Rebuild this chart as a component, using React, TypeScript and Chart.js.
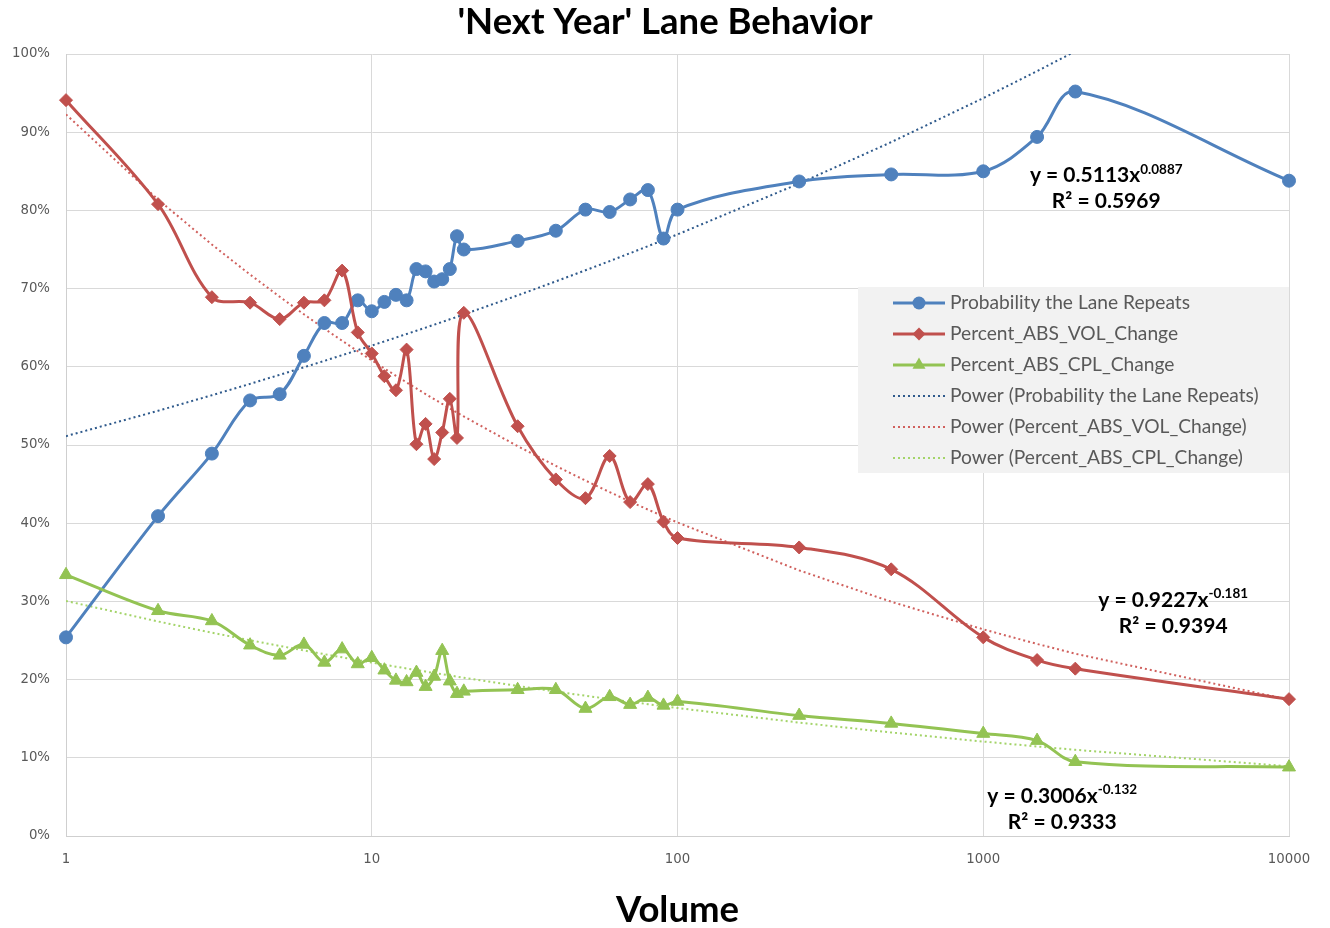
import React, { useEffect, useRef } from "react";
import { Chart, registerables } from "chart.js";

Chart.register(...registerables);

// Lane volume buckets (x) and the three measured rates (fractions of 1)
const volume = [
  1, 2, 3, 4, 5, 6, 7, 8, 9, 10, 11, 12, 13, 14, 15, 16, 17, 18, 19, 20,
  30, 40, 50, 60, 70, 80, 90, 100, 250, 500, 1000, 1500, 2000, 10000,
];

const probabilityRepeats = [
  0.254, 0.409, 0.489, 0.557, 0.565, 0.614, 0.656, 0.656, 0.685, 0.671,
  0.683, 0.692, 0.685, 0.725, 0.722, 0.709, 0.712, 0.725, 0.767, 0.750,
  0.761, 0.774, 0.801, 0.798, 0.814, 0.826, 0.764, 0.801, 0.837, 0.846,
  0.850, 0.894, 0.952, 0.838,
];

const absVolChange = [
  0.941, 0.808, 0.689, 0.682, 0.661, 0.682, 0.685, 0.723, 0.644, 0.617,
  0.588, 0.570, 0.622, 0.501, 0.527, 0.482, 0.516, 0.559, 0.509, 0.669,
  0.524, 0.456, 0.432, 0.486, 0.427, 0.450, 0.402, 0.381, 0.369, 0.341,
  0.254, 0.225, 0.214, 0.175,
];

const absCplChange = [
  0.334, 0.288, 0.275, 0.244, 0.231, 0.245, 0.222, 0.239, 0.220, 0.228,
  0.212, 0.199, 0.197, 0.209, 0.191, 0.204, 0.237, 0.198, 0.182, 0.185,
  0.187, 0.187, 0.163, 0.178, 0.168, 0.177, 0.167, 0.172, 0.154, 0.144,
  0.131, 0.122, 0.095, 0.088,
];

const seriesNames = [
  "Probability the Lane Repeats",
  "Percent_ABS_VOL_Change",
  "Percent_ABS_CPL_Change",
];

// Power trendline fits y = a * x^b for each series, with their R²
const powerCoefA = [0.5113, 0.9227, 0.3006];
const powerCoefB = [0.0887, -0.181, -0.132];
const rSquared = [0.5969, 0.9394, 0.9333];

const xTickValues = [1, 10, 100, 1000, 10000];
const yMin = 0;
const yMax = 1;
const yStep = 0.1;

const chartTitle = "'Next Year' Lane Behavior";
const xAxisTitle = "Volume";

const FONT = "Lato, 'Open Sans', sans-serif";
const TICK_FONT = "'DejaVu Sans', Verdana, sans-serif";

const seriesColors = ["#4f81bd", "#c0504d", "#93c353"];
const trendColors = ["#2f5a8c", "#d0605d", "#a4d46a"];
const pointStyles = ["circle", "rectRot", "triangle"] as const;
const pointRadii = [6.5, 6.5, 7.5];

function drawMarker(ctx: CanvasRenderingContext2D, style: string, x: number, y: number, r: number) {
  ctx.beginPath();
  if (style === "circle") {
    ctx.arc(x, y, r, 0, Math.PI * 2);
  } else if (style === "rectRot") {
    ctx.moveTo(x, y - r);
    ctx.lineTo(x + r, y);
    ctx.lineTo(x, y + r);
    ctx.lineTo(x - r, y);
    ctx.closePath();
  } else {
    for (let k = 0; k < 3; k++) {
      const a = (k * 2 * Math.PI) / 3;
      const px = x + Math.sin(a) * r;
      const py = y - Math.cos(a) * r;
      if (k === 0) ctx.moveTo(px, py);
      else ctx.lineTo(px, py);
    }
    ctx.closePath();
  }
  ctx.fill();
}

// Chart heading, centred across the full canvas width
const headingPlugin = {
  id: "heading",
  afterDraw(chart: any, _args: any, opts: any) {
    const { ctx, width } = chart;
    ctx.save();
    ctx.fillStyle = "#000";
    ctx.font = `bold ${opts.fontSize}px ${FONT}`;
    ctx.textAlign = "center";
    ctx.textBaseline = "middle";
    ctx.fillText(opts.text, width / 2, opts.y);
    ctx.restore();
  },
};

// Grey legend panel inside the plot, listing the series and their trendlines
const legendPanel = {
  id: "legendPanel",
  afterDraw(chart: any, _args: any, opts: any) {
    const { ctx } = chart;
    ctx.save();
    ctx.fillStyle = "#f2f2f2";
    ctx.fillRect(opts.left, opts.top, opts.width, opts.height);
    ctx.font = `${opts.fontSize}px ${FONT}`;
    ctx.textBaseline = "middle";
    ctx.textAlign = "left";
    chart.data.datasets.forEach((ds: any, i: number) => {
      const y = opts.top + opts.firstRow + i * opts.rowStep;
      ctx.save();
      ctx.strokeStyle = ds.borderColor;
      ctx.lineWidth = ds.borderWidth;
      ctx.setLineDash(ds.borderDash || []);
      ctx.beginPath();
      ctx.moveTo(opts.left + opts.sampleX0, y);
      ctx.lineTo(opts.left + opts.sampleX1, y);
      ctx.stroke();
      ctx.restore();
      if (ds.pointRadius > 0) {
        ctx.fillStyle = ds.pointBackgroundColor;
        drawMarker(ctx, ds.pointStyle, opts.left + (opts.sampleX0 + opts.sampleX1) / 2, y, ds.pointRadius);
      }
      ctx.fillStyle = "#595959";
      ctx.fillText(ds.label, opts.left + opts.textX, y);
    });
    ctx.restore();
  },
};

// Trendline equation and R² labels, placed at data coordinates
const trendEquations = {
  id: "trendEquations",
  afterDraw(chart: any, _args: any, opts: any) {
    const { ctx } = chart;
    const xs = chart.scales.x;
    const ys = chart.scales.y;
    ctx.save();
    ctx.fillStyle = "#000";
    ctx.textBaseline = "middle";
    ctx.textAlign = "left";
    opts.anchors.forEach((anc: any, i: number) => {
      const cx = xs.getPixelForValue(anc.x);
      const cy = ys.getPixelForValue(anc.y);
      const main = `y = ${powerCoefA[i]}x`;
      const sup = `${powerCoefB[i]}`;
      ctx.font = `bold ${opts.fontSize}px ${FONT}`;
      const w1 = ctx.measureText(main).width;
      ctx.font = `bold ${opts.supSize}px ${FONT}`;
      const w2 = ctx.measureText(sup).width;
      const start = cx - (w1 + w2) / 2;
      ctx.font = `bold ${opts.fontSize}px ${FONT}`;
      ctx.fillText(main, start, cy);
      ctx.font = `bold ${opts.supSize}px ${FONT}`;
      ctx.fillText(sup, start + w1, cy - opts.supRaise);
      ctx.font = `bold ${opts.fontSize}px ${FONT}`;
      const r2 = `R² = ${rSquared[i]}`;
      const w3 = ctx.measureText(r2).width;
      ctx.fillText(r2, cx - w3 / 2, cy + opts.lineGap);
    });
    ctx.restore();
  },
};

export default function App() {
  const canvasRef = useRef<HTMLCanvasElement | null>(null);

  useEffect(() => {
    if (!canvasRef.current) return;
    const measured = [probabilityRepeats, absVolChange, absCplChange];

    const mainSets = measured.map((vals, i) => ({
      label: seriesNames[i],
      data: volume.map((v, k) => ({ x: v, y: vals[k] })),
      borderColor: seriesColors[i],
      backgroundColor: seriesColors[i],
      pointBackgroundColor: seriesColors[i],
      pointBorderColor: seriesColors[i],
      pointBorderWidth: 1,
      pointStyle: pointStyles[i],
      pointRadius: pointRadii[i],
      borderWidth: 3,
      tension: 0.35,
      clip: false as const,
      order: 3 - i,
    }));

    const trendSets = seriesNames.map((name, i) => ({
      label: `Power (${name})`,
      data: volume.map((v) => ({ x: v, y: powerCoefA[i] * Math.pow(v, powerCoefB[i]) })),
      borderColor: trendColors[i],
      backgroundColor: trendColors[i],
      borderWidth: 2,
      borderDash: [2, 3],
      pointRadius: 0,
      tension: 0,
      order: 10,
    }));

    const chart = new Chart(canvasRef.current, {
      type: "line",
      data: { datasets: [...mainSets, ...trendSets] as any },
      plugins: [headingPlugin, legendPanel, trendEquations],
      options: {
        animation: false,
        responsive: false,
        layout: { padding: { left: 0, right: 41, top: 54, bottom: 0 } },
        plugins: {
          legend: { display: false },
          tooltip: { enabled: false },
          title: { display: false },
          heading: { text: chartTitle, fontSize: 36.5, y: 22 },
          legendPanel: {
            left: 858,
            top: 287,
            width: 431,
            height: 186,
            firstRow: 16,
            rowStep: 31,
            sampleX0: 35,
            sampleX1: 87,
            textX: 92,
            fontSize: 19.2,
          },
          trendEquations: {
            fontSize: 21,
            supSize: 13.5,
            supRaise: 6,
            lineGap: 26,
            anchors: [
              { x: 2525, y: 0.845 },
              { x: 4180, y: 0.302 },
              { x: 1813, y: 0.051 },
            ],
          },
        } as any,
        scales: {
          x: {
            type: "logarithmic",
            min: xTickValues[0],
            max: xTickValues[xTickValues.length - 1],
            afterBuildTicks: (scale: any) => {
              scale.ticks = xTickValues.map((v) => ({ value: v }));
            },
            afterFit: (scale: any) => {
              scale.height = 92;
            },
            ticks: {
              autoSkip: false,
              maxRotation: 0,
              padding: 16,
              color: "#595959",
              font: { family: TICK_FONT, size: 13.3 },
              callback: (v: any) => String(v),
            },
            grid: { color: "#d9d9d9", lineWidth: 1, drawTicks: false },
            border: { color: "#cfcfcf" },
            title: {
              display: true,
              text: xAxisTitle,
              color: "#000",
              font: { family: FONT, size: 36.5, weight: "bold", lineHeight: 1 },
              padding: { top: 0, bottom: 0 },
            },
          },
          y: {
            type: "linear",
            min: yMin,
            max: yMax,
            afterFit: (scale: any) => {
              scale.width = 66;
            },
            ticks: {
              stepSize: yStep,
              padding: 16,
              color: "#595959",
              font: { family: TICK_FONT, size: 13.3 },
              callback: (v: any) => `${Math.round(Number(v) * 100)}%`,
            },
            grid: { color: "#d9d9d9", lineWidth: 1, drawTicks: false },
            border: { color: "#cfcfcf" },
          },
        },
      },
    });

    return () => chart.destroy();
  }, []);

  return (
    <div style={{ position: "absolute", left: 0, top: 0, width: 1330, height: 928, background: "#fff" }}>
      <canvas ref={canvasRef} width={1330} height={928} style={{ display: "block" }} />
    </div>
  );
}
